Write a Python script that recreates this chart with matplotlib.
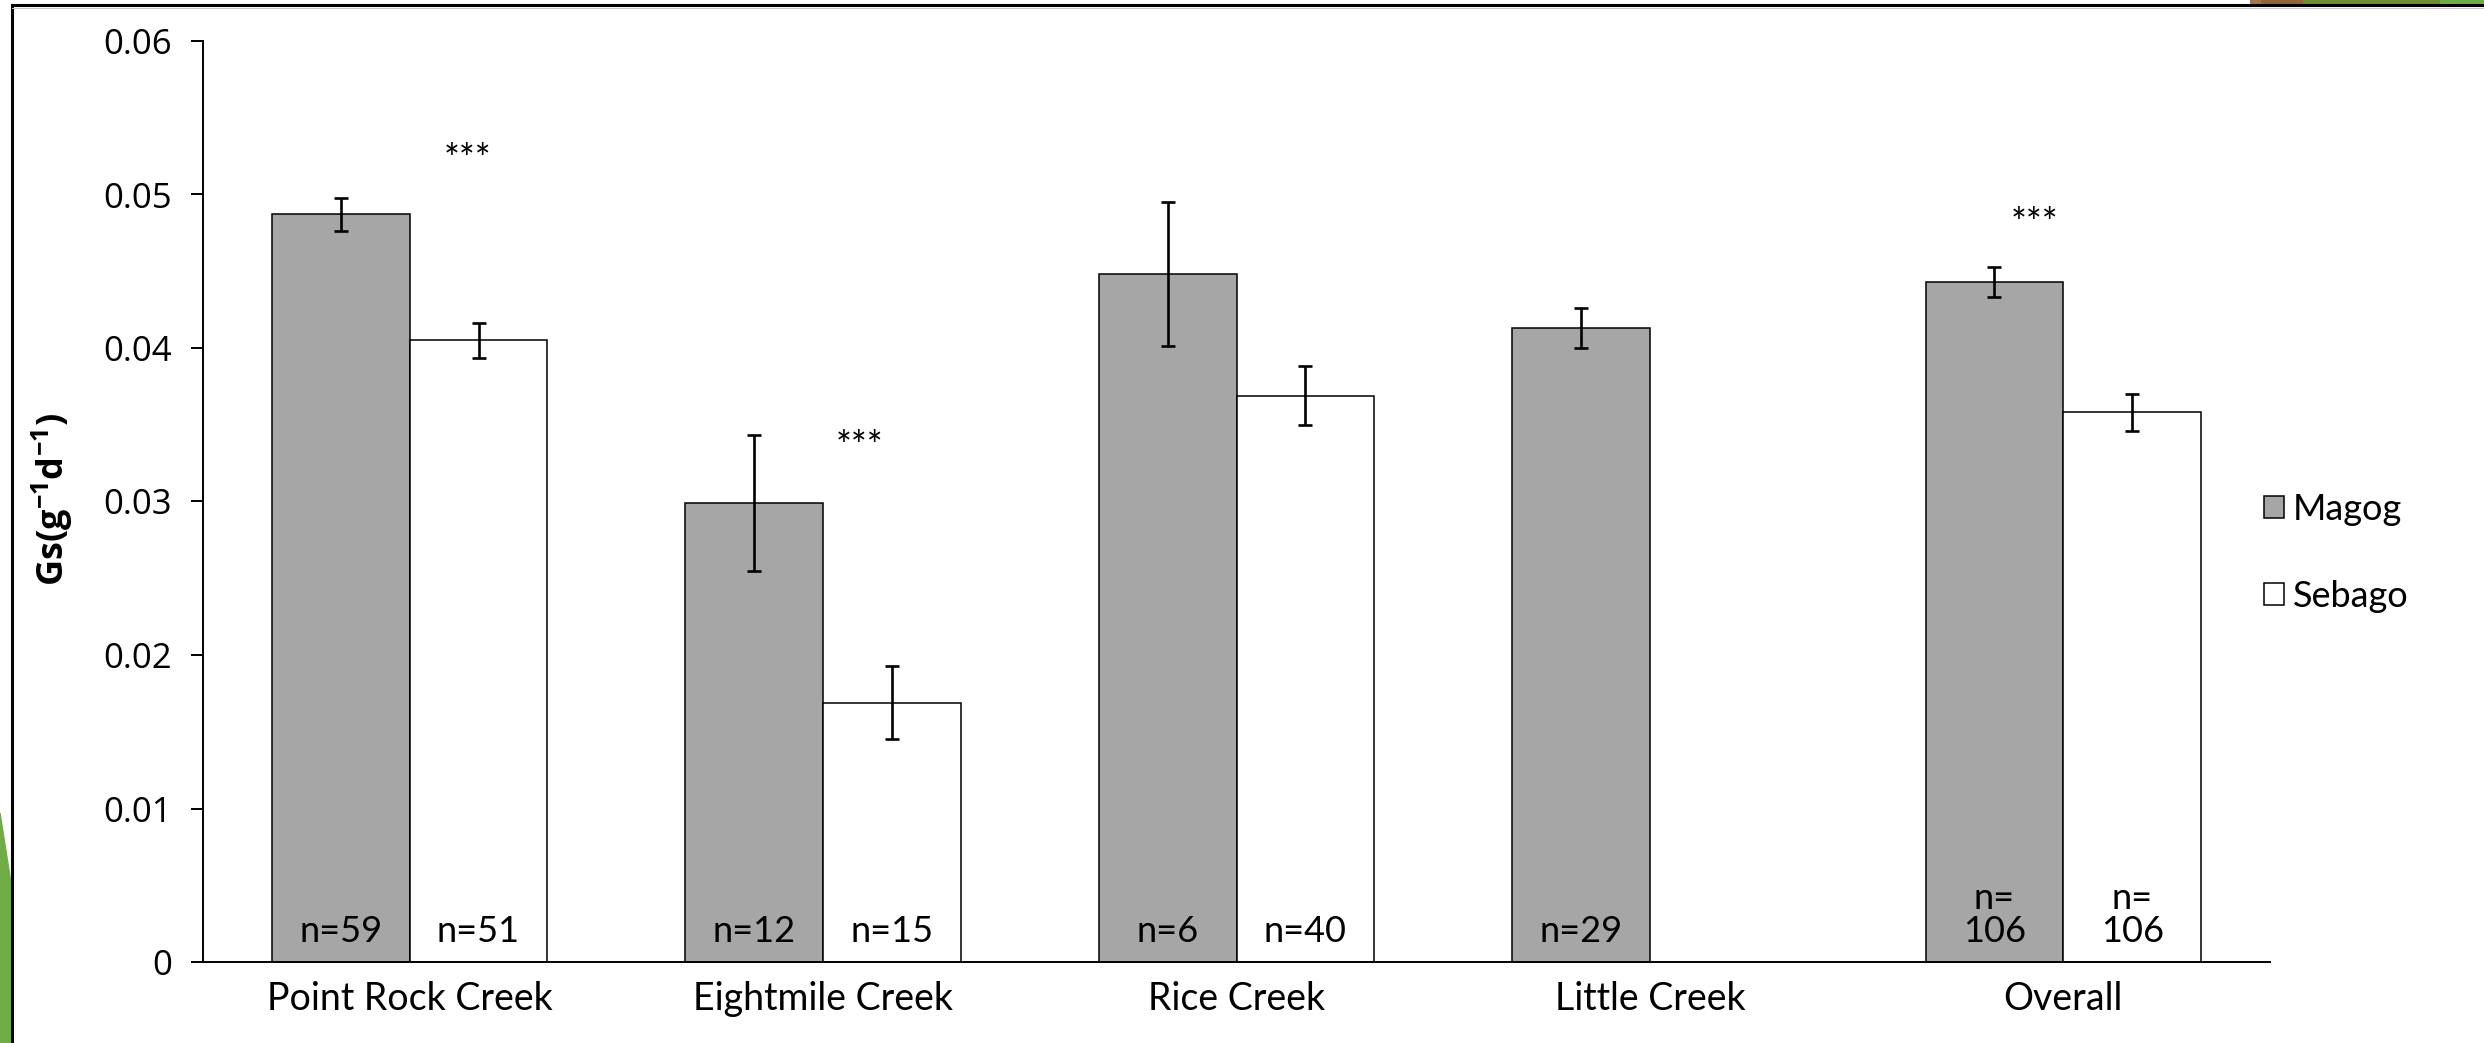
import matplotlib.pyplot as plt
import numpy as np
from matplotlib.lines import Line2D
from matplotlib.patches import Polygon, Rectangle

sites = ['Point Rock Creek', 'Eightmile Creek', 'Rice Creek', 'Little Creek', 'Overall']
magog = [0.0487, 0.0299, 0.0448, 0.0413, 0.0443]
magog_err = [0.0011, 0.0044, 0.0047, 0.0013, 0.0010]
sebago = [0.0405, 0.0169, 0.0369, np.nan, 0.0358]
sebago_err = [0.00115, 0.0024, 0.0019, np.nan, 0.0012]
magog_n = ['n=59', 'n=12', 'n=6', 'n=29', 'n=\n106']
sebago_n = ['n=51', 'n=15', 'n=40', '', 'n=\n106']
# significance marks: (x position in category units, y value)
stars_x = [0.14, 1.087, 3.93]
stars_y = [0.0522, 0.0335, 0.0480]

W, H = 2484, 1043
fig = plt.figure(figsize=(W / 100, H / 100), dpi=100)
ax = fig.add_axes([203 / W, 1 - 962 / H, (2270 - 203) / W, (962 - 41) / H])

x = np.arange(len(sites))
w = 0.333
err_kw = dict(ecolor='black', elinewidth=1.9, capsize=5, capthick=1.9)
ax.bar(x - w / 2, magog, w, yerr=magog_err, color='#A6A6A6', edgecolor='black',
       linewidth=1.1, label='Magog', error_kw=err_kw)
ax.bar(x + w / 2, sebago, w, yerr=sebago_err, color='white', edgecolor='black',
       linewidth=1.1, label='Sebago', error_kw=err_kw)

for i in range(len(sites)):
    for xx, lab in [(x[i] - w / 2, magog_n[i]), (x[i] + w / 2, sebago_n[i])]:
        if lab:
            ax.text(xx, 0.0013, lab, ha='center', va='baseline', fontsize=26,
                    family='Lato', linespacing=1.0)

for sx, sy in zip(stars_x, stars_y):
    ax.text(sx, sy, '***', ha='center', va='center', fontsize=27, family='Lato')

ax.set_xlim(-0.5, 4.5)
ax.set_ylim(0, 0.06)
ax.set_yticks([0, 0.01, 0.02, 0.03, 0.04, 0.05, 0.06])
ax.set_yticklabels(['0', '0.01', '0.02', '0.03', '0.04', '0.05', '0.06'],
                   family='Open Sans', fontsize=25)
ax.set_xticks(x)
ax.set_xticklabels(sites, family='Lato', fontsize=27)
ax.tick_params(axis='x', length=0, pad=14)
ax.tick_params(axis='y', length=8.5, width=1.4, pad=14)
for s in ['top', 'right']:
    ax.spines[s].set_visible(False)
for s in ['left', 'bottom']:
    ax.spines[s].set_linewidth(1.4)

plt.rcParams['mathtext.fontset'] = 'custom'
plt.rcParams['mathtext.bf'] = 'Open Sans:bold'
plt.rcParams['mathtext.rm'] = 'Open Sans'
fig.text(52 / W, 1 - 500 / H, r'$\mathbf{Gs(g^{-1}d^{-1})}$', rotation=90,
         ha='center', va='center', fontsize=26)

ax.legend(loc='center left', bbox_to_anchor=(2246 / W, 1 - 553 / H),
          bbox_transform=fig.transFigure, frameon=False, borderpad=0,
          prop={'family': 'Lato', 'size': 26}, handlelength=0.55,
          handleheight=0.55, handletextpad=0.25, labelspacing=1.5)

# slide decorations around the chart
fig.add_artist(Polygon([[0, 1 - 813 / H], [11 / W, 1 - 883 / H], [11 / W, 0], [0, 0]],
                       closed=True, color='#70AD47', transform=fig.transFigure))
strip = [(2250, 2261, '#A57552'), (2261, 2303, '#926538'), (2303, 2440, '#6B8E30'),
         (2440, W, '#70AD47')]
for x0, x1, c in strip:
    fig.add_artist(Rectangle((x0 / W, 1 - 4 / H), (x1 - x0) / W, 4 / H, color=c,
                             transform=fig.transFigure, lw=0))
fig.add_artist(Line2D([12 / W, 12 / W], [0, 1 - 5 / H], color='black', lw=2.2,
                      transform=fig.transFigure))
fig.add_artist(Line2D([12 / W, 1], [1 - 5 / H, 1 - 5 / H], color='black', lw=2.2,
                      transform=fig.transFigure))
fig.add_artist(Line2D([12 / W, 1], [1 - 7.5 / H, 1 - 7.5 / H], color='#C8C8C8', lw=0.8,
                      transform=fig.transFigure))

fig.savefig('out.png', dpi=100)
